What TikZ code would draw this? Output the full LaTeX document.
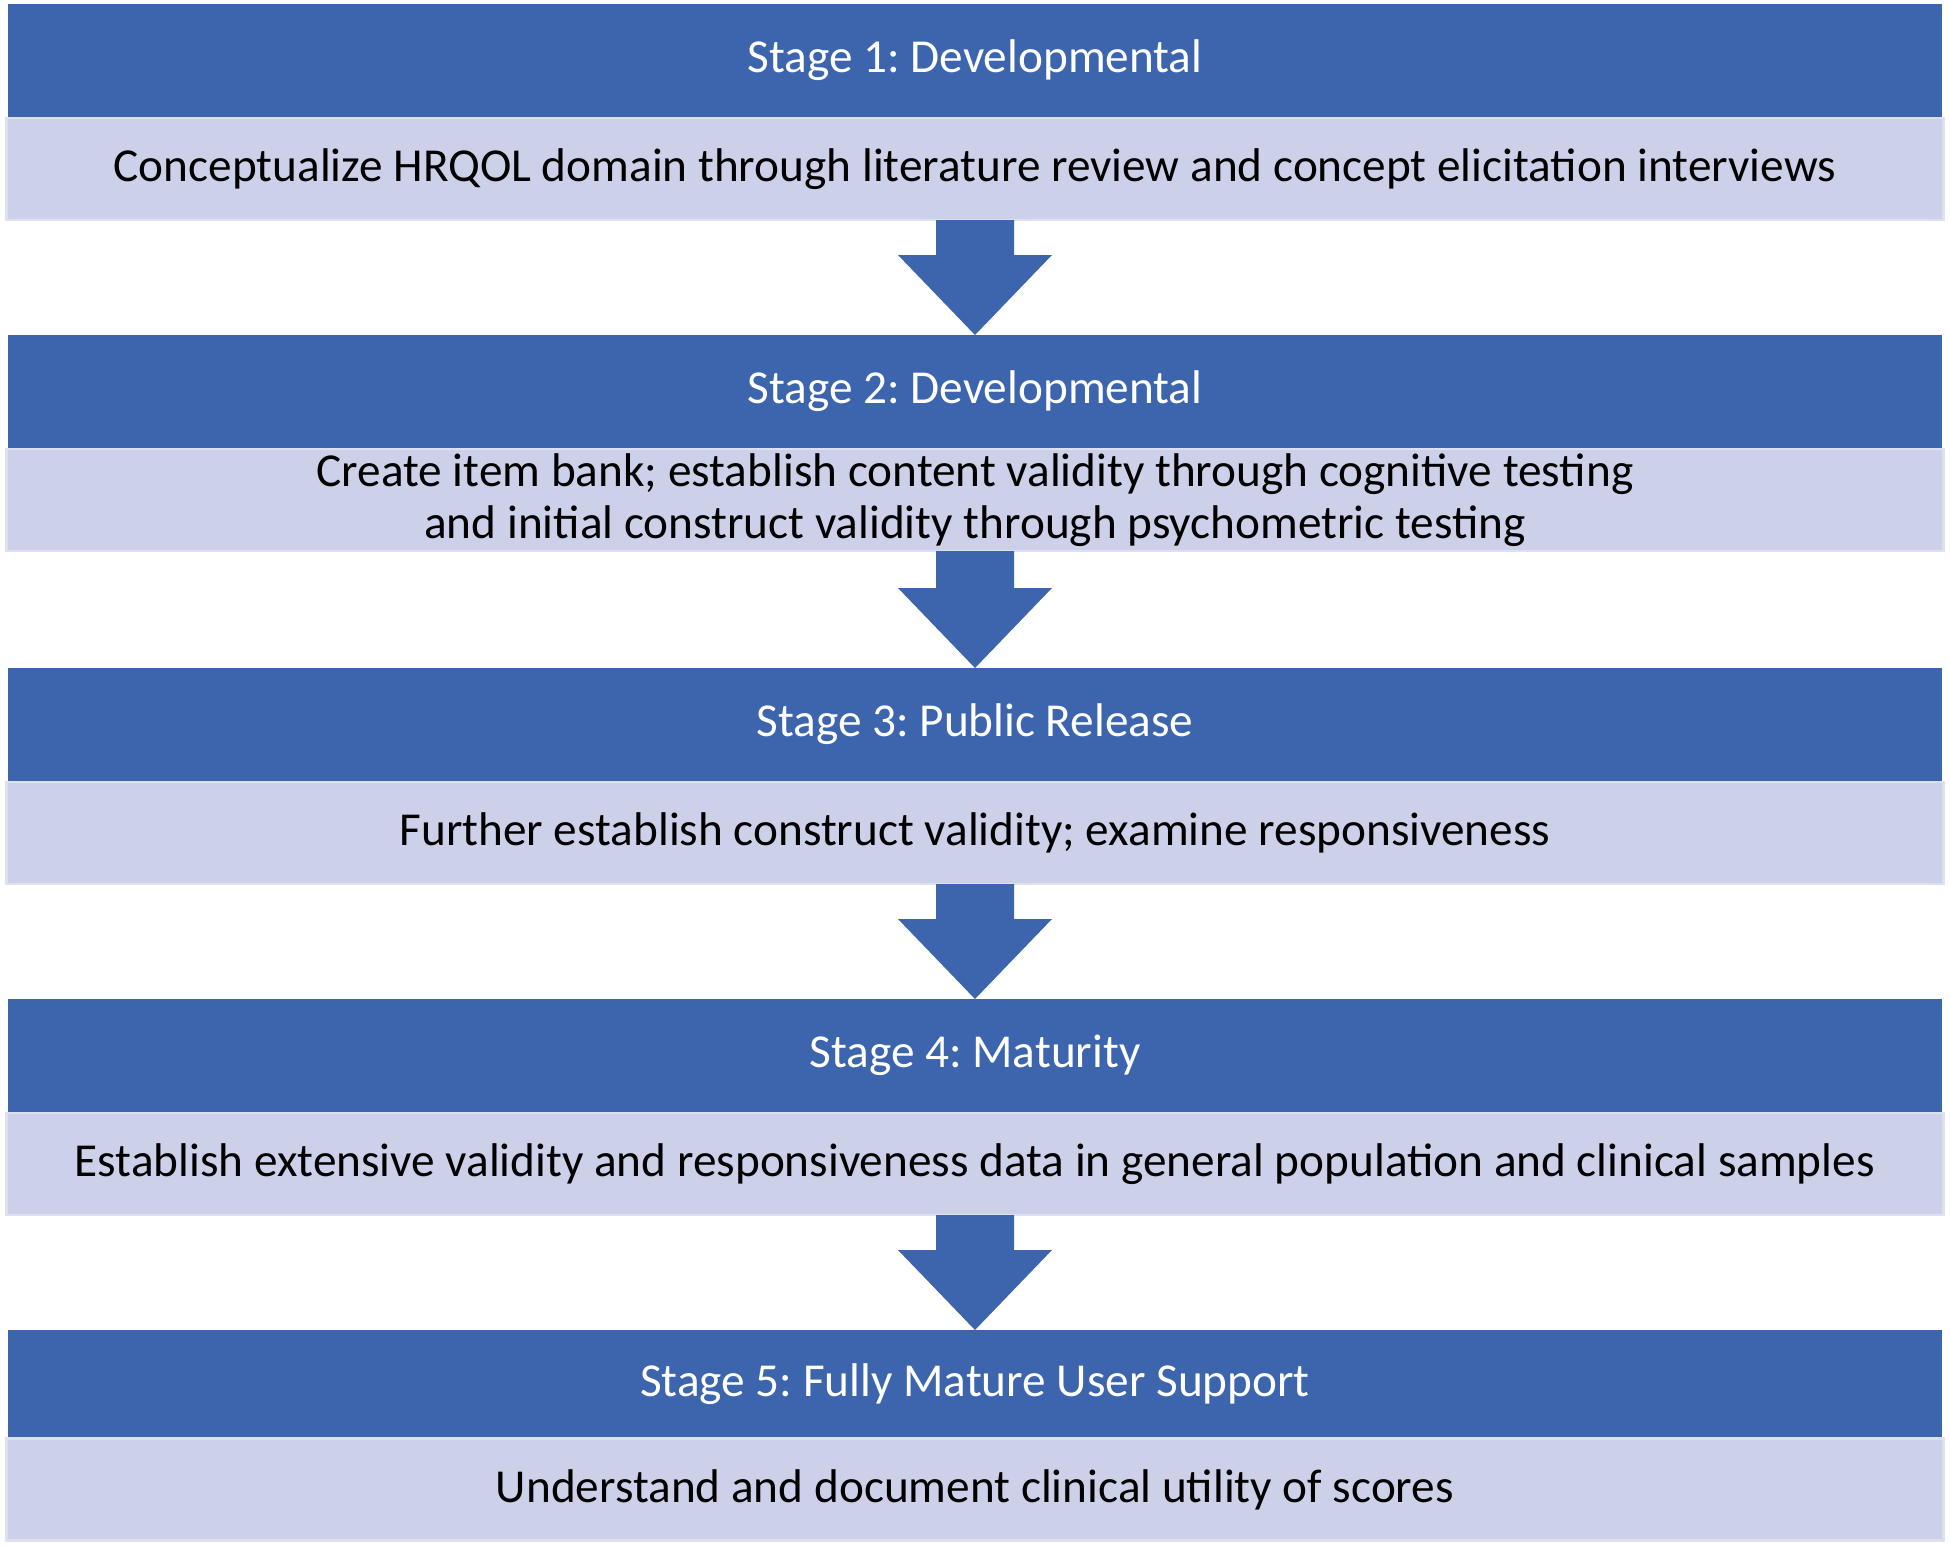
\documentclass[tikz,border=0pt]{standalone}
\usepackage{fontspec}
\setmainfont{Carlito}
\usepackage{tikz}
\usetikzlibrary{calc}
\frenchspacing
\definecolor{headblue}{RGB}{61,101,173}
\definecolor{bodyblue}{RGB}{204,208,233}
\definecolor{bodyedge}{RGB}{221,224,241}
\tikzset{
    stagehead/.style={rectangle, inner sep=0mm, outer sep=0mm, fill=headblue, text=white,
      minimum width=19.34cm, minimum height=1.13cm, font=\fontsize{13.45}{14.9}\selectfont}
}
\tikzset{
    stagebody/.style={rectangle, inner sep=0mm, outer sep=0mm, fill=bodyblue, draw=bodyedge,
      line width=0.6pt, minimum width=19.37cm, minimum height=1.02cm, align=center,
      font=\fontsize{13.45}{14.9}\selectfont}
}
\tikzset{stagearrow/.style={fill=headblue, draw=none}}
% block arrow from the bottom of one stage to the top of the next
\newcommand{\stagedown}[2]{%
  \fill[stagearrow] ($(#1.south)+(-0.39,0)$) -- ($(#2.north)+(-0.39,0.80)$)
    -- ($(#2.north)+(-0.77,0.80)$) -- (#2.north) -- ($(#2.north)+(0.77,0.80)$)
    -- ($(#2.north)+(0.39,0.80)$) -- ($(#1.south)+(0.39,0)$) -- cycle;}

\begin{document}
\begin{tikzpicture}
  \useasboundingbox (0,0) rectangle (19.5,-15.46);

  \node (h1) [stagehead] at (9.75,-0.605) {Stage 1: Developmental};
  \node (b1) [stagebody] at (9.75,-1.69) {Conceptualize HRQOL domain through literature review and concept elicitation interviews};

  \node (h2) [stagehead] at (9.75,-3.915) {Stage 2: Developmental};
  \node (b2) [stagebody] at (9.75,-5.00) {Create item bank; establish content validity through cognitive testing\\and initial construct validity through psychometric testing};

  \node (h3) [stagehead] at (9.75,-7.245) {Stage 3: Public Release};
  \node (b3) [stagebody] at (9.75,-8.33) {Further establish construct validity; examine responsiveness};

  \node (h4) [stagehead] at (9.75,-10.555) {Stage 4: Maturity};
  \node (b4) [stagebody] at (9.75,-11.64) {Establish extensive validity and responsiveness data in general population and clinical samples};

  \node (h5) [stagehead] at (9.75,-13.84) [minimum height=1.08cm] {Stage 5: Fully Mature User Support};
  \node (b5) [stagebody] at (9.75,-14.895) {Understand and document clinical utility of scores};

  \stagedown{b1}{h2}
  \stagedown{b2}{h3}
  \stagedown{b3}{h4}
  \stagedown{b4}{h5}
\end{tikzpicture}
\end{document}
